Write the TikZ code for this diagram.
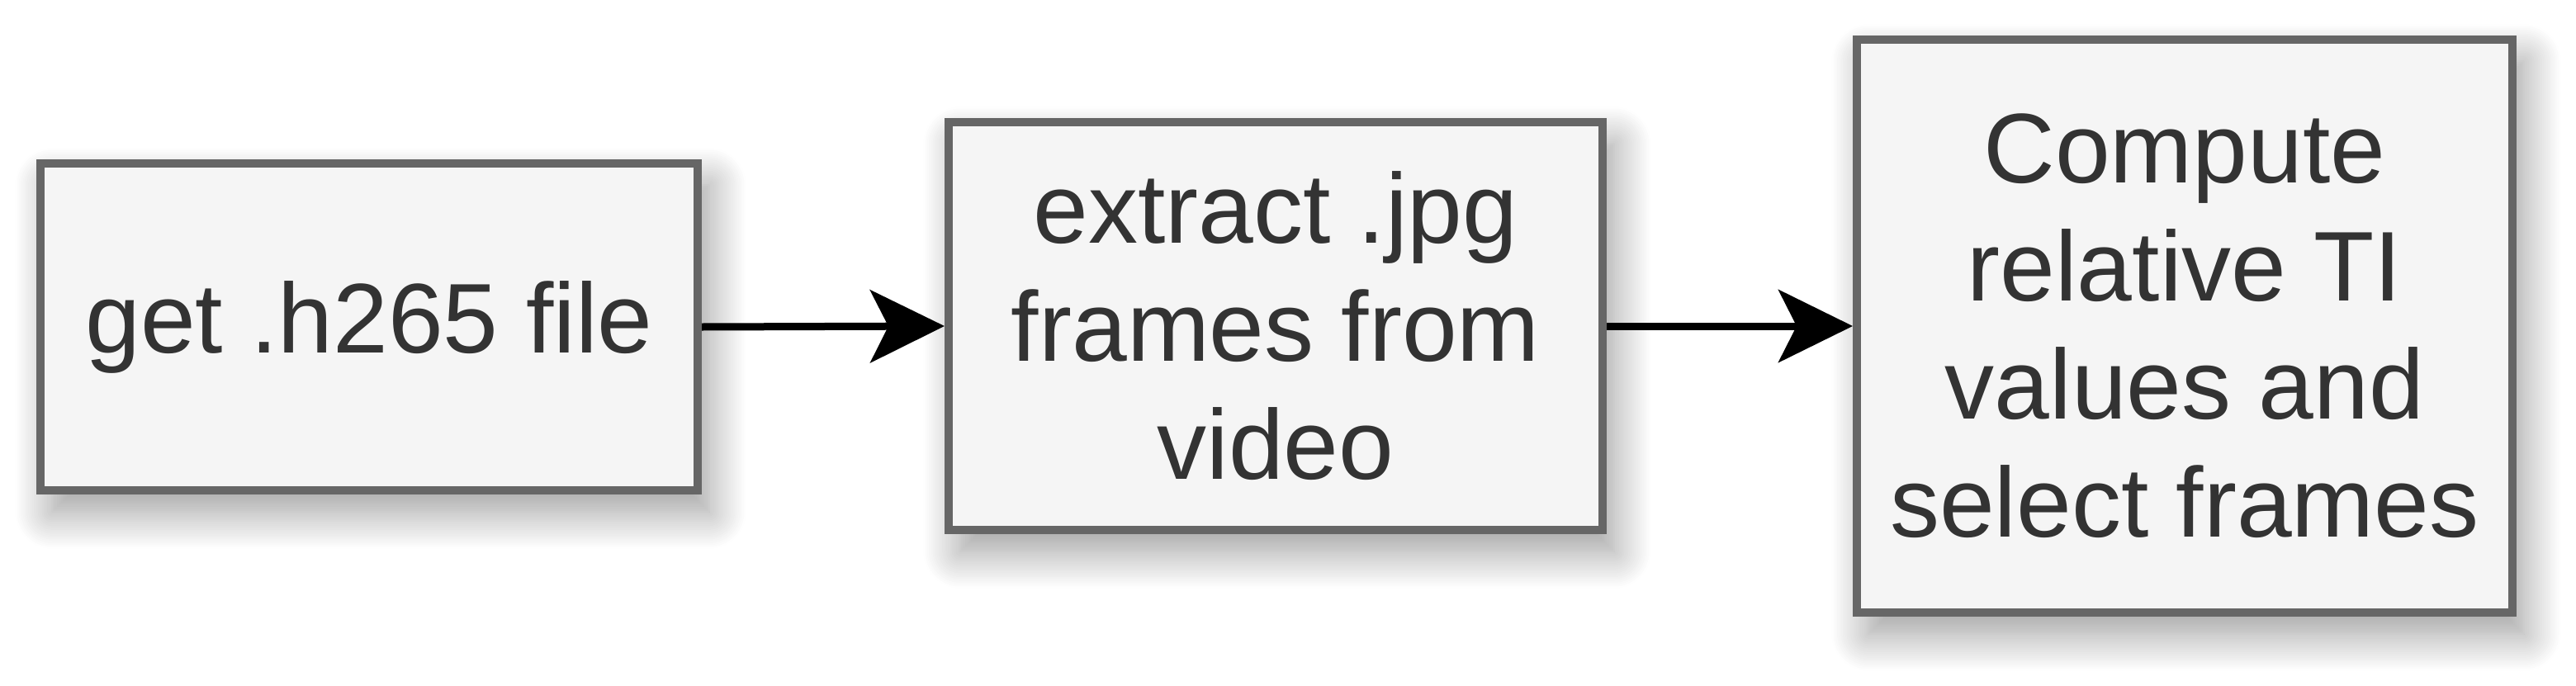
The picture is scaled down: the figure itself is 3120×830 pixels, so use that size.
\documentclass[tikz,border=0pt]{standalone}
\usepackage{fontspec}
\setmainfont{Liberation Sans}
\usetikzlibrary{arrows.meta,shadows.blur}
\definecolor{boxfill}{HTML}{F5F5F5}
\definecolor{boxline}{HTML}{666666}
\definecolor{boxtext}{HTML}{333333}
\tikzset{
  procbox/.style={draw=boxline, line width=10pt, fill=boxfill, text=boxtext,
    align=center, inner sep=0pt,
    font=\fontsize{120}{143}\selectfont,
    blur shadow={shadow xshift=14pt, shadow yshift=-26pt, shadow blur radius=45pt, shadow blur steps=20, shadow opacity=40}},
  flow/.style={line width=9pt, draw=black, -{Stealth[length=90pt,width=88pt,inset=22pt]}}
}
\begin{document}
\begin{tikzpicture}[x=1pt,y=-1pt]
\useasboundingbox (0,0) rectangle (3120,830);
\node[procbox, minimum width=796pt, minimum height=396pt] (a) at (447,396) {get .h265 file};
\node[procbox, minimum width=792pt, minimum height=494pt] (b) at (1545,395) {extract .jpg\\frames from\\video};
\node[procbox, minimum width=794pt, minimum height=694pt] (c) at (2646,395) {Compute\\relative TI\\values and\\select frames};
\draw[flow] (a.east) -- (b.west);
\draw[flow] (b.east) -- (c.west |- b.east);
\end{tikzpicture}
\end{document}
